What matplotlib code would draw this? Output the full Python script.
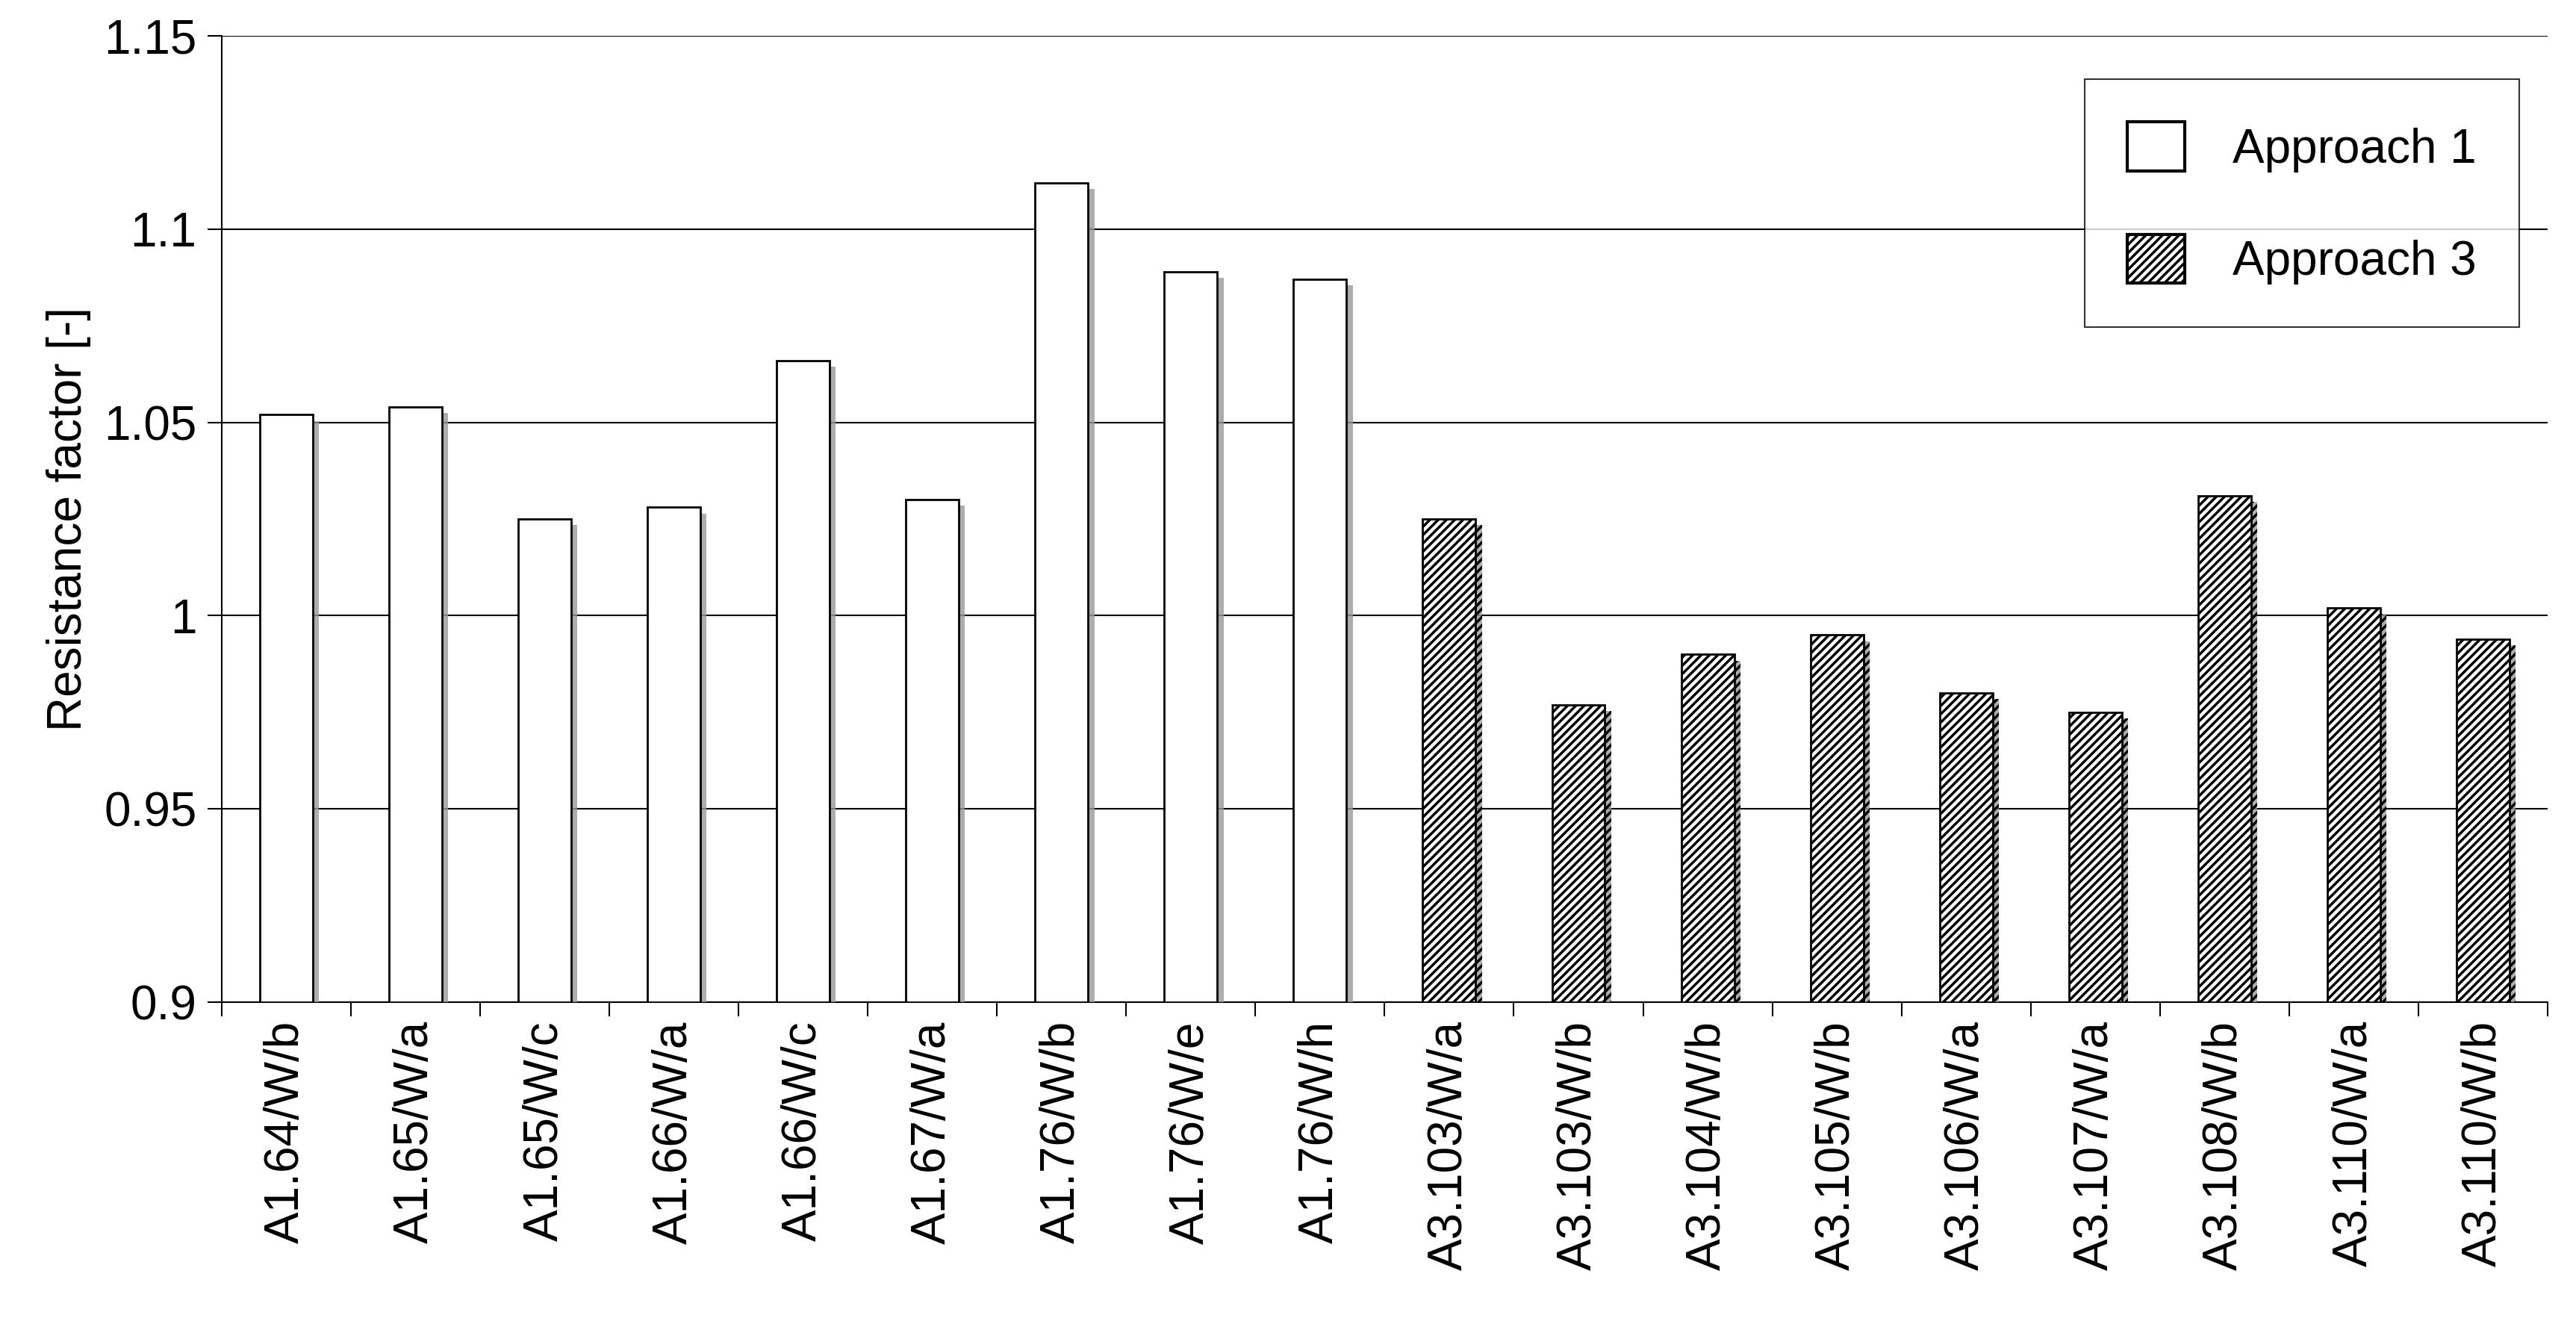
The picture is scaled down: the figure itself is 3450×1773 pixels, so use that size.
import matplotlib.pyplot as plt
import matplotlib.patheffects as pe
import numpy as np

plt.rcParams['font.family'] = ['Liberation Sans', 'DejaVu Sans']

labels_a1 = ["A1.64/W/b", "A1.65/W/a", "A1.65/W/c", "A1.66/W/a", "A1.66/W/c",
             "A1.67/W/a", "A1.76/W/b", "A1.76/W/e", "A1.76/W/h"]
values_a1 = [1.052, 1.054, 1.025, 1.028, 1.066, 1.030, 1.112, 1.089, 1.087]
labels_a3 = ["A3.103/W/a", "A3.103/W/b", "A3.104/W/b", "A3.105/W/b", "A3.106/W/a",
             "A3.107/W/a", "A3.108/W/b", "A3.110/W/a", "A3.110/W/b"]
values_a3 = [1.025, 0.977, 0.990, 0.995, 0.980, 0.975, 1.031, 1.002, 0.994]

base = 0.9
fs = 46
fig = plt.figure(figsize=(34.5, 17.73), dpi=100)
ax = fig.add_axes([0.086, 0.243, 0.903, 0.730])

plt.rcParams['hatch.linewidth'] = 2.5
shadow = [pe.SimplePatchShadow(offset=(6, -6), shadow_rgbFace='0.6', alpha=0.8), pe.Normal()]
x1 = np.arange(len(values_a1))
x3 = np.arange(len(values_a3)) + len(values_a1)
b1 = ax.bar(x1, np.array(values_a1) - base, bottom=base, width=0.41, color="white",
            edgecolor="black", linewidth=2, label="Approach 1", zorder=3)
b3 = ax.bar(x3, np.array(values_a3) - base, bottom=base, width=0.41, color="white",
            edgecolor="black", linewidth=2, hatch="///", label="Approach 3", zorder=3)
for b in list(b1) + list(b3):
    b.set_path_effects(shadow)

n = len(values_a1) + len(values_a3)
ax.set_xlim(-0.5, n - 0.5)
ax.set_ylim(0.9, 1.15)
ax.set_yticks([0.9, 0.95, 1.0, 1.05, 1.1, 1.15])
ax.set_yticklabels(["0.9", "0.95", "1", "1.05", "1.1", "1.15"])
ax.yaxis.grid(True, color="black", linewidth=1.5, zorder=0)
ax.set_axisbelow(True)
ax.set_xticks(np.arange(n))
ax.set_xticklabels(labels_a1 + labels_a3, rotation=90)
ax.set_xticks(np.arange(n + 1) - 0.5, minor=True)
ax.tick_params(axis="x", which="major", length=0, pad=18)
ax.tick_params(axis="x", which="minor", length=14, width=1.5)
ax.tick_params(axis="y", length=14, width=1.5, pad=10)
ax.tick_params(labelsize=fs)
for s in ["top", "right"]:
    ax.spines[s].set_visible(False)
for s in ["left", "bottom"]:
    ax.spines[s].set_linewidth(1.5)
ax.set_ylabel("Resistance factor [-]", fontsize=fs, labelpad=12)

leg = ax.legend(loc="upper right", fontsize=fs, frameon=True, fancybox=False,
                edgecolor="black", handlelength=1.2, handleheight=1.2,
                labelspacing=1.3, borderpad=0.9, handletextpad=1.0,
                bbox_to_anchor=(0.998, 0.98))
leg.get_frame().set_linewidth(1.5)
for h in leg.legend_handles:
    h.set_path_effects([])
    h.set_linewidth(3)

fig.savefig("out.png", dpi=100)
